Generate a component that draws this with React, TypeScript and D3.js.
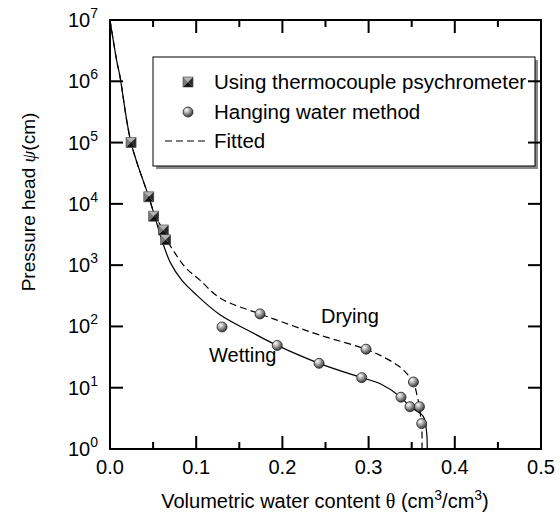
import React from "react";
import * as d3 from "d3";

// measured data (theta, head in cm)
const thermocouple: [number, number][] = [
  [0.0244, 1e5],
  [0.045, 1.3e4],
  [0.0507, 6.3e3],
  [0.0619, 3.75e3],
  [0.0646, 2.6e3],
];

const hanging: [number, number][] = [
  [0.13, 98],
  [0.174, 160],
  [0.194, 49],
  [0.2425, 25],
  [0.297, 42.5],
  [0.292, 14.6],
  [0.3376, 7],
  [0.352, 12.4],
  [0.348, 4.9],
  [0.359, 4.9],
  [0.3616, 2.6],
];

// fitted curves
const wettingCurve: [number, number][] = [
  [0, 1e7], [0.0077, 2.2e6], [0.0116, 1.19e6], [0.0244, 1e5], [0.045, 1.3e4],
  [0.052, 6.2e3], [0.06, 2.6e3], [0.07, 1.1e3], [0.083, 575], [0.1006, 324],
  [0.1276, 155], [0.166, 78], [0.194, 49], [0.2425, 25], [0.292, 14.6],
  [0.313, 11.7], [0.3376, 7], [0.348, 4.9], [0.3634, 3.4], [0.3674, 1.8], [0.368, 1],
];

const dryingCurve: [number, number][] = [
  [0, 1e7], [0.0077, 2.2e6], [0.0116, 1.19e6], [0.0244, 1e5], [0.045, 1.3e4],
  [0.053, 6e3], [0.062, 3.75e3], [0.066, 2.6e3], [0.075, 1.6e3], [0.088, 900],
  [0.104, 575], [0.128, 288], [0.174, 160], [0.21, 105], [0.2436, 72],
  [0.297, 42.5], [0.313, 34], [0.336, 22], [0.346, 16], [0.352, 12.4],
  [0.3565, 7.2], [0.359, 4.9], [0.3604, 3.4], [0.3616, 2.6], [0.362, 1],
];

const xMajor = [0, 0.1, 0.2, 0.3, 0.4, 0.5];
const xMinor = [0.05, 0.15, 0.25, 0.35, 0.45];
const yExponents = [0, 1, 2, 3, 4, 5, 6, 7];

const W = 560;
const H = 518;
const plot = { left: 110, top: 20, right: 541, bottom: 449 };
const FONT = "'Liberation Sans', Arial, sans-serif";

export default function App() {
  const x = d3.scaleLinear().domain([0, 0.5]).range([plot.left, plot.right]);
  const y = d3.scaleLog().domain([1, 1e7]).range([plot.bottom, plot.top]);

  const line = d3
    .line<[number, number]>()
    .x((d) => x(d[0]))
    .y((d) => y(d[1]))
    .curve(d3.curveCatmullRom.alpha(0.5));

  const major = 13;
  const minor = 7;

  const square = (cx: number, cy: number, key: string) => {
    const s = 5;
    return (
      <g key={key}>
        <polygon points={`${cx - s},${cy - s} ${cx + s},${cy - s} ${cx},${cy}`} fill="#b4b4b4" />
        <polygon points={`${cx - s},${cy - s} ${cx - s},${cy + s} ${cx},${cy}`} fill="#7a7a7a" />
        <polygon points={`${cx + s},${cy - s} ${cx + s},${cy + s} ${cx},${cy}`} fill="#2a2a2a" />
        <polygon points={`${cx - s},${cy + s} ${cx + s},${cy + s} ${cx},${cy}`} fill="#111" />
        <rect x={cx - s} y={cy - s} width={2 * s} height={2 * s} fill="none" stroke="#444" strokeWidth={0.6} />
      </g>
    );
  };

  const ball = (cx: number, cy: number, key: string) => (
    <circle key={key} cx={cx} cy={cy} r={5} fill="url(#ballGrad)" stroke="#222" strokeWidth={0.8} />
  );

  return (
    <svg
      width={W}
      height={H}
      style={{ position: "absolute", left: 0, top: 0, background: "#fff" }}
      fontFamily={FONT}
    >
      <defs>
        <radialGradient id="ballGrad" cx="35%" cy="30%" r="70%">
          <stop offset="0%" stopColor="#ffffff" />
          <stop offset="45%" stopColor="#a8a8a8" />
          <stop offset="100%" stopColor="#3c3c3c" />
        </radialGradient>
        <clipPath id="plotClip">
          <rect x={plot.left} y={plot.top} width={plot.right - plot.left} height={plot.bottom - plot.top} />
        </clipPath>
      </defs>

      {/* legend */}
      <rect x={156} y={60} width={382} height={109} fill="#8a8a8a" />
      <rect x={153} y={57} width={382} height={109} fill="#fff" stroke="#000" strokeWidth={1} />
      {square(188, 82, "leg-sq")}
      <text x={214} y={89} fontSize={20.5}>Using thermocouple psychrometer</text>
      {ball(188, 112, "leg-ball")}
      <text x={214} y={119} fontSize={20.5}>Hanging water method</text>
      <line x1={165} x2={208} y1={141} y2={141} stroke="#000" strokeWidth={1.2} strokeDasharray="7,4" />
      <text x={214} y={148} fontSize={20.5}>Fitted</text>

      {/* curves */}
      <g clipPath="url(#plotClip)" fill="none" stroke="#000" strokeWidth={1.2}>
        <path d={line(wettingCurve) || ""} />
        <path d={line(dryingCurve) || ""} strokeDasharray="7,4" />
      </g>

      {thermocouple.map((d, i) => square(x(d[0]), y(d[1]), `sq${i}`))}
      {hanging.map((d, i) => ball(x(d[0]), y(d[1]), `b${i}`))}

      <text x={321} y={323} fontSize={20}>Drying</text>
      <text x={209} y={362} fontSize={20}>Wetting</text>

      {/* frame */}
      <rect
        x={plot.left}
        y={plot.top}
        width={plot.right - plot.left}
        height={plot.bottom - plot.top}
        fill="none"
        stroke="#000"
        strokeWidth={2}
      />

      {/* x ticks */}
      {xMajor.map((v) => (
        <g key={`xm${v}`} stroke="#000" strokeWidth={2}>
          <line x1={x(v)} x2={x(v)} y1={plot.bottom} y2={plot.bottom - major} />
          <line x1={x(v)} x2={x(v)} y1={plot.top} y2={plot.top + major} />
        </g>
      ))}
      {xMinor.map((v) => (
        <g key={`xn${v}`} stroke="#000" strokeWidth={2}>
          <line x1={x(v)} x2={x(v)} y1={plot.bottom} y2={plot.bottom - minor} />
          <line x1={x(v)} x2={x(v)} y1={plot.top} y2={plot.top + minor} />
        </g>
      ))}
      {xMajor.map((v) => (
        <text key={`xl${v}`} x={x(v)} y={474} fontSize={20} textAnchor="middle">
          {v.toFixed(1)}
        </text>
      ))}

      {/* y ticks */}
      {yExponents.map((e) => (
        <g key={`ym${e}`} stroke="#000" strokeWidth={2}>
          <line x1={plot.left} x2={plot.left + major} y1={y(10 ** e)} y2={y(10 ** e)} />
          <line x1={plot.right} x2={plot.right - major} y1={y(10 ** e)} y2={y(10 ** e)} />
        </g>
      ))}
      {yExponents.map((e) => (
        <text key={`yl${e}`} x={98} y={y(10 ** e) + 7} fontSize={20} textAnchor="end">
          10
          <tspan fontSize={14} dy={-9}>{e}</tspan>
        </text>
      ))}

      {/* axis titles */}
      <text x={325} y={508} fontSize={20} textAnchor="middle">
        Volumetric water content <tspan fontFamily="'Liberation Serif', serif">θ</tspan> (cm
        <tspan fontSize={14} dy={-8}>3</tspan>
        <tspan dy={8}>/cm</tspan>
        <tspan fontSize={14} dy={-8}>3</tspan>
        <tspan dy={8}>)</tspan>
      </text>
      <text transform="translate(35,202) rotate(-90)" fontSize={19} textAnchor="middle">
        Pressure head  <tspan fontStyle="italic" fontFamily="'Liberation Serif', serif">ψ</tspan>(cm)
      </text>
    </svg>
  );
}
